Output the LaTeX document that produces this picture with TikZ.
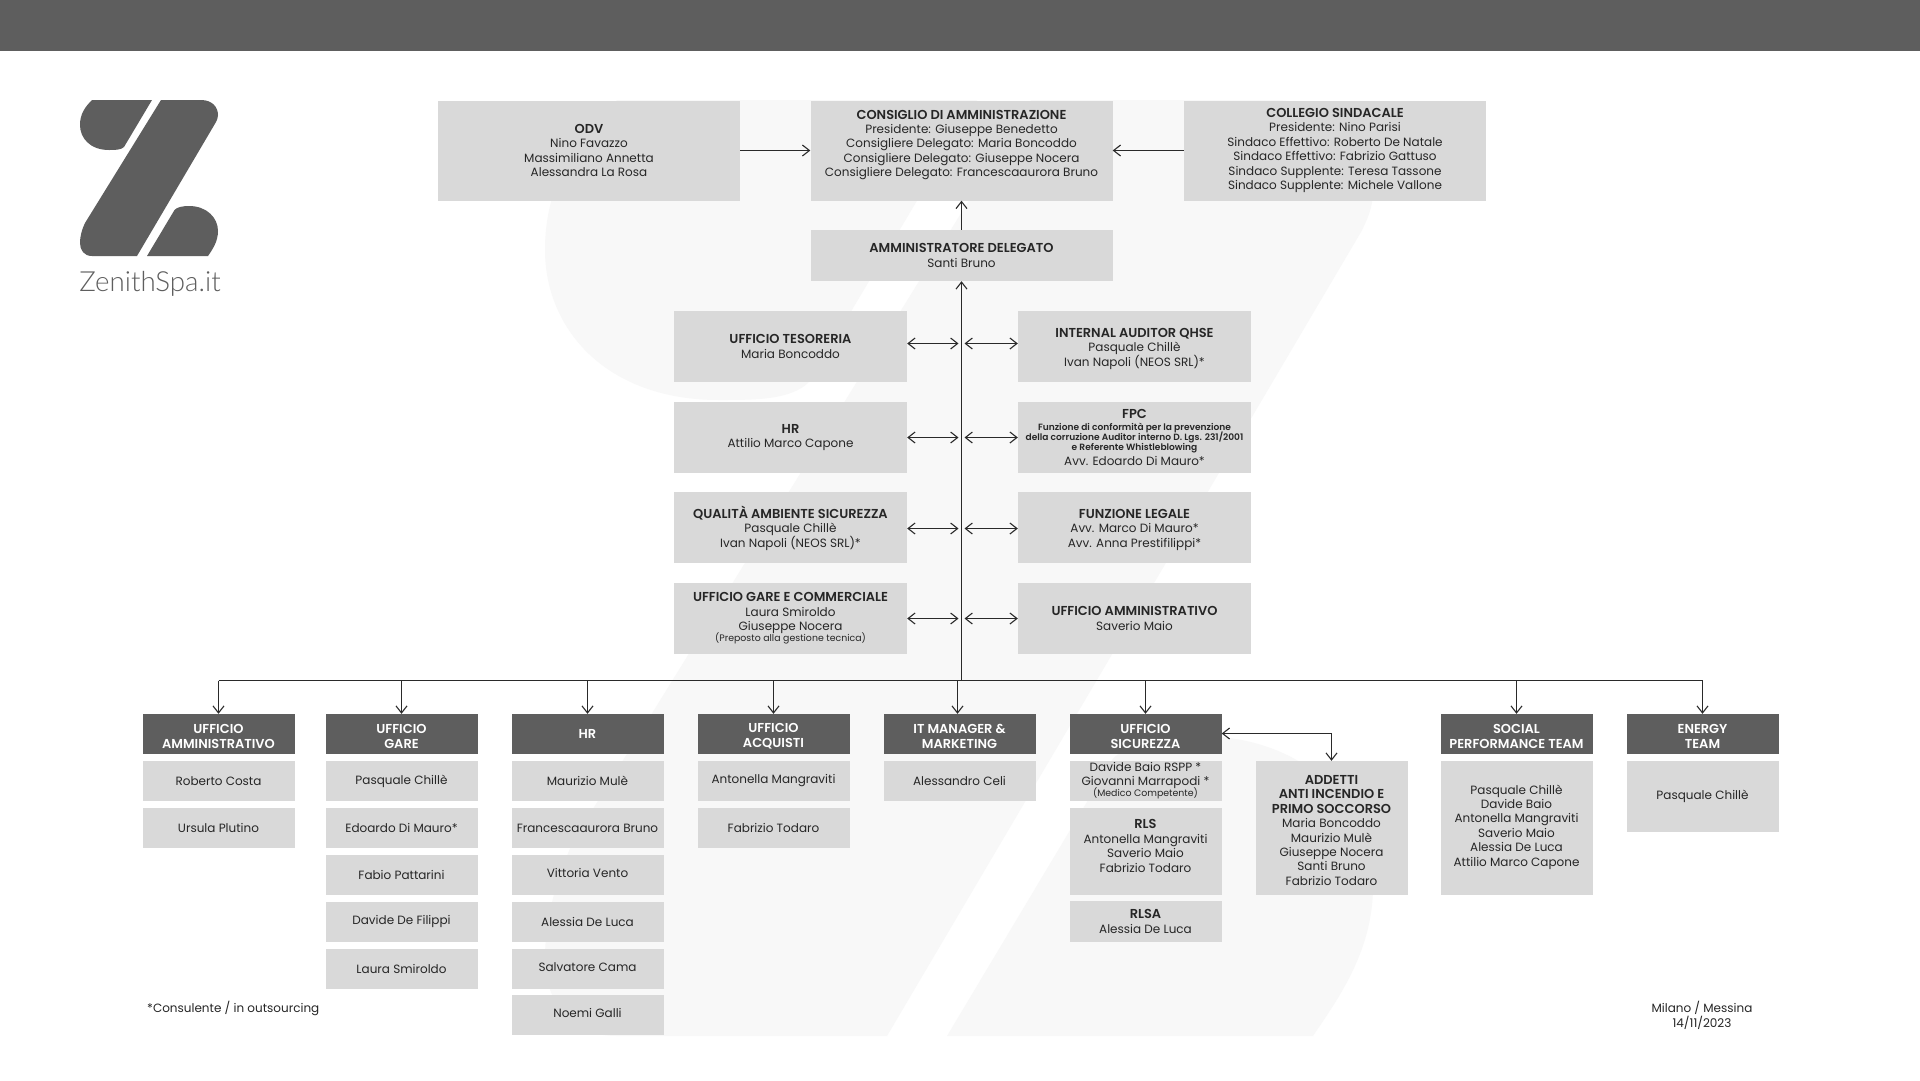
\documentclass[tikz,border=0pt]{standalone}
\usepackage{fontspec}
\setmainfont[BoldFont={Poppins SemiBold},BoldFeatures={Scale=1.08}]{Poppins}
\newfontfamily\brandfont{Lato Light}
\usetikzlibrary{arrows.meta}
\definecolor{darkgrey}{HTML}{5E5E5E}
\definecolor{boxgrey}{HTML}{D9D9D9}
\definecolor{markgrey}{HTML}{F8F8F8}
\definecolor{linegrey}{HTML}{2A2A2A}
\newcommand{\smalltxt}[1]{{\fontsize{8.4}{10.7}\selectfont\bfseries #1}}
\newcommand{\tinytxt}[1]{{\fontsize{9.4}{10.5}\selectfont #1}}
\newcommand{\down}{\mbox{}\\[-0.5pt]}
\newcommand{\up}{\\[-11pt]\mbox{}}
\tikzset{
	>={Straight Barb[length=7pt,width=11pt,line width=1.1pt]},
	link/.style={linegrey, line width=1.1pt},
	body/.style={align=center, inner sep=0pt, text=black!85, font=\fontsize{12}{14.4}\selectfont},
	greybox/.style={body, fill=boxgrey},
	headbox/.style={body, fill=darkgrey, text=white, minimum width=152pt, minimum height=40pt},
	topbox/.style={greybox, minimum width=302pt, minimum height=100pt},
	midbox/.style={greybox, minimum width=233pt, minimum height=71pt},
	lowbox/.style={greybox, minimum width=152pt, minimum height=40pt},
	zmark/.pic={
		\fill[pic actions] (12,0) -- (72,0) -- (44,47) .. controls (41,50) and (35,50) .. (29,50) .. controls (10,50) and (0,38) .. (0,25) .. controls (0,14) and (5,7) .. (12,0) -- cycle;
		\fill[pic actions] (81,0) -- (121,0) .. controls (132,0) and (138,7) .. (138,15) .. controls (138,18) and (137,20) .. (136,22) -- (57,156) -- (12,156) .. controls (4,156) and (0,150) .. (0,143) .. controls (0,135) and (3,127) .. (5,123) -- cycle;
		\fill[pic actions] (67,156) -- (94.5,110) .. controls (97,107) and (103,106) .. (109,106) .. controls (127,106) and (138,118) .. (138,131) .. controls (138,142) and (132,150) .. (128,156) -- cycle;
	}
}

\begin{document}
\begin{tikzpicture}[x=1pt, y=-1pt]
	\useasboundingbox (0,0) rectangle (1920,1080);
	\fill[white] (0,0) rectangle (1920,1080);
	\fill[darkgrey] (0,0) rectangle (1920,51);
	\pic[fill=markgrey, scale=6] at (545,100) {zmark};
	\pic[fill=darkgrey] at (80,100) {zmark};
	\node[text=darkgrey, inner sep=0pt, font=\brandfont\fontsize{27.7}{30}\selectfont] (brand) at (150,283.5) {ZenithSpa.it};

	\node[topbox] (odv) at (589,150.5) {\textbf{ODV}\\Nino Favazzo\\Massimiliano Annetta\\Alessandra La Rosa};
	\node[topbox] (cda) at (961.5,150.5) {\textbf{CONSIGLIO DI AMMINISTRAZIONE}\\Presidente: Giuseppe Benedetto\\Consigliere Delegato: Maria Boncoddo\\Consigliere Delegato: Giuseppe Nocera\\Consigliere Delegato: Francescaaurora Bruno\\\mbox{}};
	\node[topbox] (cs) at (1335,150.5) {\textbf{COLLEGIO SINDACALE}\\Presidente: Nino Parisi\\Sindaco Effettivo: Roberto De Natale\\Sindaco Effettivo: Fabrizio Gattuso\\Sindaco Supplente: Teresa Tassone\\Sindaco Supplente: Michele Vallone};
	\node[topbox, minimum height=51pt] (ad) at (961.5,255.5) {\textbf{AMMINISTRATORE DELEGATO}\\Santi Bruno};

	\node[midbox] (tes) at (790.5,346.5) {\textbf{UFFICIO TESORERIA}\\Maria Boncoddo};
	\node[midbox] (hr) at (790.5,437.5) {\textbf{HR}\\Attilio Marco Capone};
	\node[midbox] (qas) at (790.5,527.5) {\down\textbf{QUALITÀ AMBIENTE SICUREZZA}\\Pasquale Chillè\\Ivan Napoli (NEOS SRL)*};
	\node[midbox] (gare) at (790.5,618.5) {\textbf{UFFICIO GARE E COMMERCIALE}\\Laura Smiroldo\\Giuseppe Nocera\\[-3pt]\tinytxt{(Preposto alla gestione tecnica)}};
	\node[midbox] (qhse) at (1134.5,346.5) {\down\textbf{INTERNAL AUDITOR QHSE}\\Pasquale Chillè\\Ivan Napoli (NEOS SRL)*};
	\node[midbox] (fpc) at (1134.5,437.5) {\textbf{FPC}\\[-3pt]\smalltxt{Funzione di conformità per la prevenzione}\\[-4pt]\smalltxt{della corruzione Auditor interno D. Lgs. 231/2001}\\[-4pt]\smalltxt{e Referente Whistleblowing}\\[0pt]Avv. Edoardo Di Mauro*};
	\node[midbox] (leg) at (1134.5,527.5) {\down\textbf{FUNZIONE LEGALE}\\Avv. Marco Di Mauro*\\Avv. Anna Prestifilippi*};
	\node[midbox] (amm) at (1134.5,618.5) {\textbf{UFFICIO AMMINISTRATIVO}\\Saverio Maio};

	\node[headbox] (hamm) at (218.5,734) {\down\textbf{UFFICIO}\\\textbf{AMMINISTRATIVO}};
	\node[headbox] (hgare) at (401.5,734) {\down\textbf{UFFICIO}\\\textbf{GARE}};
	\node[headbox] (hhr) at (587.5,734) {\textbf{HR}};
	\node[headbox] (hacq) at (773.5,734) {\down\textbf{UFFICIO}\\\textbf{ACQUISTI}};
	\node[headbox] (hit) at (959.5,734) {\down\textbf{IT MANAGER \&}\\\textbf{MARKETING}};
	\node[headbox] (hsic) at (1145.5,734) {\down\textbf{UFFICIO}\\\textbf{SICUREZZA}};
	\node[headbox] (hsoc) at (1516.5,734) {\down\textbf{SOCIAL}\\\textbf{PERFORMANCE TEAM}};
	\node[headbox] (hen) at (1702.5,734) {\down\textbf{ENERGY}\\\textbf{TEAM}};

	\node[lowbox] (costa) at (218.5,781) {Roberto Costa};
	\node[lowbox] (plutino) at (218.5,828) {Ursula Plutino};

	\node[lowbox] (chille) at (401.5,781) {Pasquale Chillè};
	\node[lowbox] (dimauro) at (401.5,828) {Edoardo Di Mauro*};
	\node[lowbox] (pattarini) at (401.5,875) {Fabio Pattarini};
	\node[lowbox] (defilippi) at (401.5,921.5) {Davide De Filippi};
	\node[lowbox] (smiroldo) at (401.5,968.5) {Laura Smiroldo};

	\node[lowbox] (mule) at (587.5,781) {Maurizio Mulè};
	\node[lowbox] (bruno) at (587.5,828) {Francescaaurora Bruno};
	\node[lowbox] (vento) at (587.5,875) {Vittoria Vento\up};
	\node[lowbox] (deluca) at (587.5,921.5) {Alessia De Luca};
	\node[lowbox] (cama) at (587.5,968.5) {Salvatore Cama\up};
	\node[lowbox] (galli) at (587.5,1015) {Noemi Galli\up};

	\node[lowbox] (mangraviti) at (773.5,781) {Antonella Mangraviti};
	\node[lowbox] (todaro) at (773.5,828) {Fabrizio Todaro};

	\node[lowbox] (celi) at (959.5,781) {Alessandro Celi};

	\node[lowbox] (rspp) at (1145.5,781) {Davide Baio RSPP *\\[-1pt]Giovanni Marrapodi *\\[-3pt]\tinytxt{(Medico Competente)}};
	\node[lowbox, minimum height=87pt] (rls) at (1145.5,851.5) {\textbf{RLS}\\Antonella Mangraviti\\Saverio Maio\\Fabrizio Todaro\\[-3pt]\mbox{}};
	\node[lowbox, minimum height=41pt] (rlsa) at (1145.5,921.5) {\textbf{RLSA}\\Alessia De Luca};
	\node[lowbox, minimum height=134pt] (add) at (1331.5,828) {\down\textbf{ADDETTI}\\\textbf{ANTI INCENDIO E}\\\textbf{PRIMO SOCCORSO}\\Maria Boncoddo\\Maurizio Mulè\\Giuseppe Nocera\\Santi Bruno\\Fabrizio Todaro};
	\node[lowbox, minimum height=134pt] (soc) at (1516.5,828) {Pasquale Chillè\\Davide Baio\\Antonella Mangraviti\\Saverio Maio\\Alessia De Luca\\Attilio Marco Capone\\[-9pt]\mbox{}};
	\node[lowbox, minimum height=71pt] (en) at (1702.5,796.5) {Pasquale Chillè};

	\node[body, anchor=west] (note) at (147,1008.5) {*Consulente / in outsourcing};
	\node[body] (place) at (1702,1015.5) {Milano / Messina\\14/11/2023};

	\coordinate (bus) at (961.5,680.5);
	\coordinate (corner) at (1331.5,733.5);

	\draw[link, ->] (odv) -- (cda);
	\draw[link, ->] (cs) -- (cda);
	\draw[link, ->] (ad) -- (cda);
	\draw[link, ->] (bus) -- (ad);

	\draw[link, <->] ([yshift=3pt]tes.east) -- ([xshift=-3pt, yshift=3pt]tes.east -| bus);
	\draw[link, <->] (hr.east) -- ([xshift=-3pt]hr.east -| bus);
	\draw[link, <->] ([yshift=-1pt]qas.east) -- ([xshift=-3pt, yshift=-1pt]qas.east -| bus);
	\draw[link, <->] (gare.east) -- ([xshift=-3pt]gare.east -| bus);
	\draw[link, <->] ([yshift=3pt]qhse.west) -- ([xshift=3pt, yshift=3pt]qhse.west -| bus);
	\draw[link, <->] (fpc.west) -- ([xshift=3pt]fpc.west -| bus);
	\draw[link, <->] ([yshift=-1pt]leg.west) -- ([xshift=3pt, yshift=-1pt]leg.west -| bus);
	\draw[link, <->] (amm.west) -- ([xshift=3pt]amm.west -| bus);

	\draw[link] (bus -| hamm) -- (bus -| hen);
	\draw[link, ->] (bus -| hamm) -- (hamm);
	\draw[link, ->] (bus -| hgare) -- (hgare);
	\draw[link, ->] (bus -| hhr) -- (hhr);
	\draw[link, ->] (bus -| hacq) -- (hacq);
	\draw[link, ->] ([xshift=-2pt]bus -| hit) -- ([xshift=-2pt]hit.north);
	\draw[link, ->] (bus -| hsic) -- (hsic);
	\draw[link, ->] (bus -| hsoc) -- (hsoc);
	\draw[link, ->] (bus -| hen) -- (hen);

	\draw[link, <->] (hsic.east |- corner) -- (corner) -- (add.north);
\end{tikzpicture}
\end{document}
